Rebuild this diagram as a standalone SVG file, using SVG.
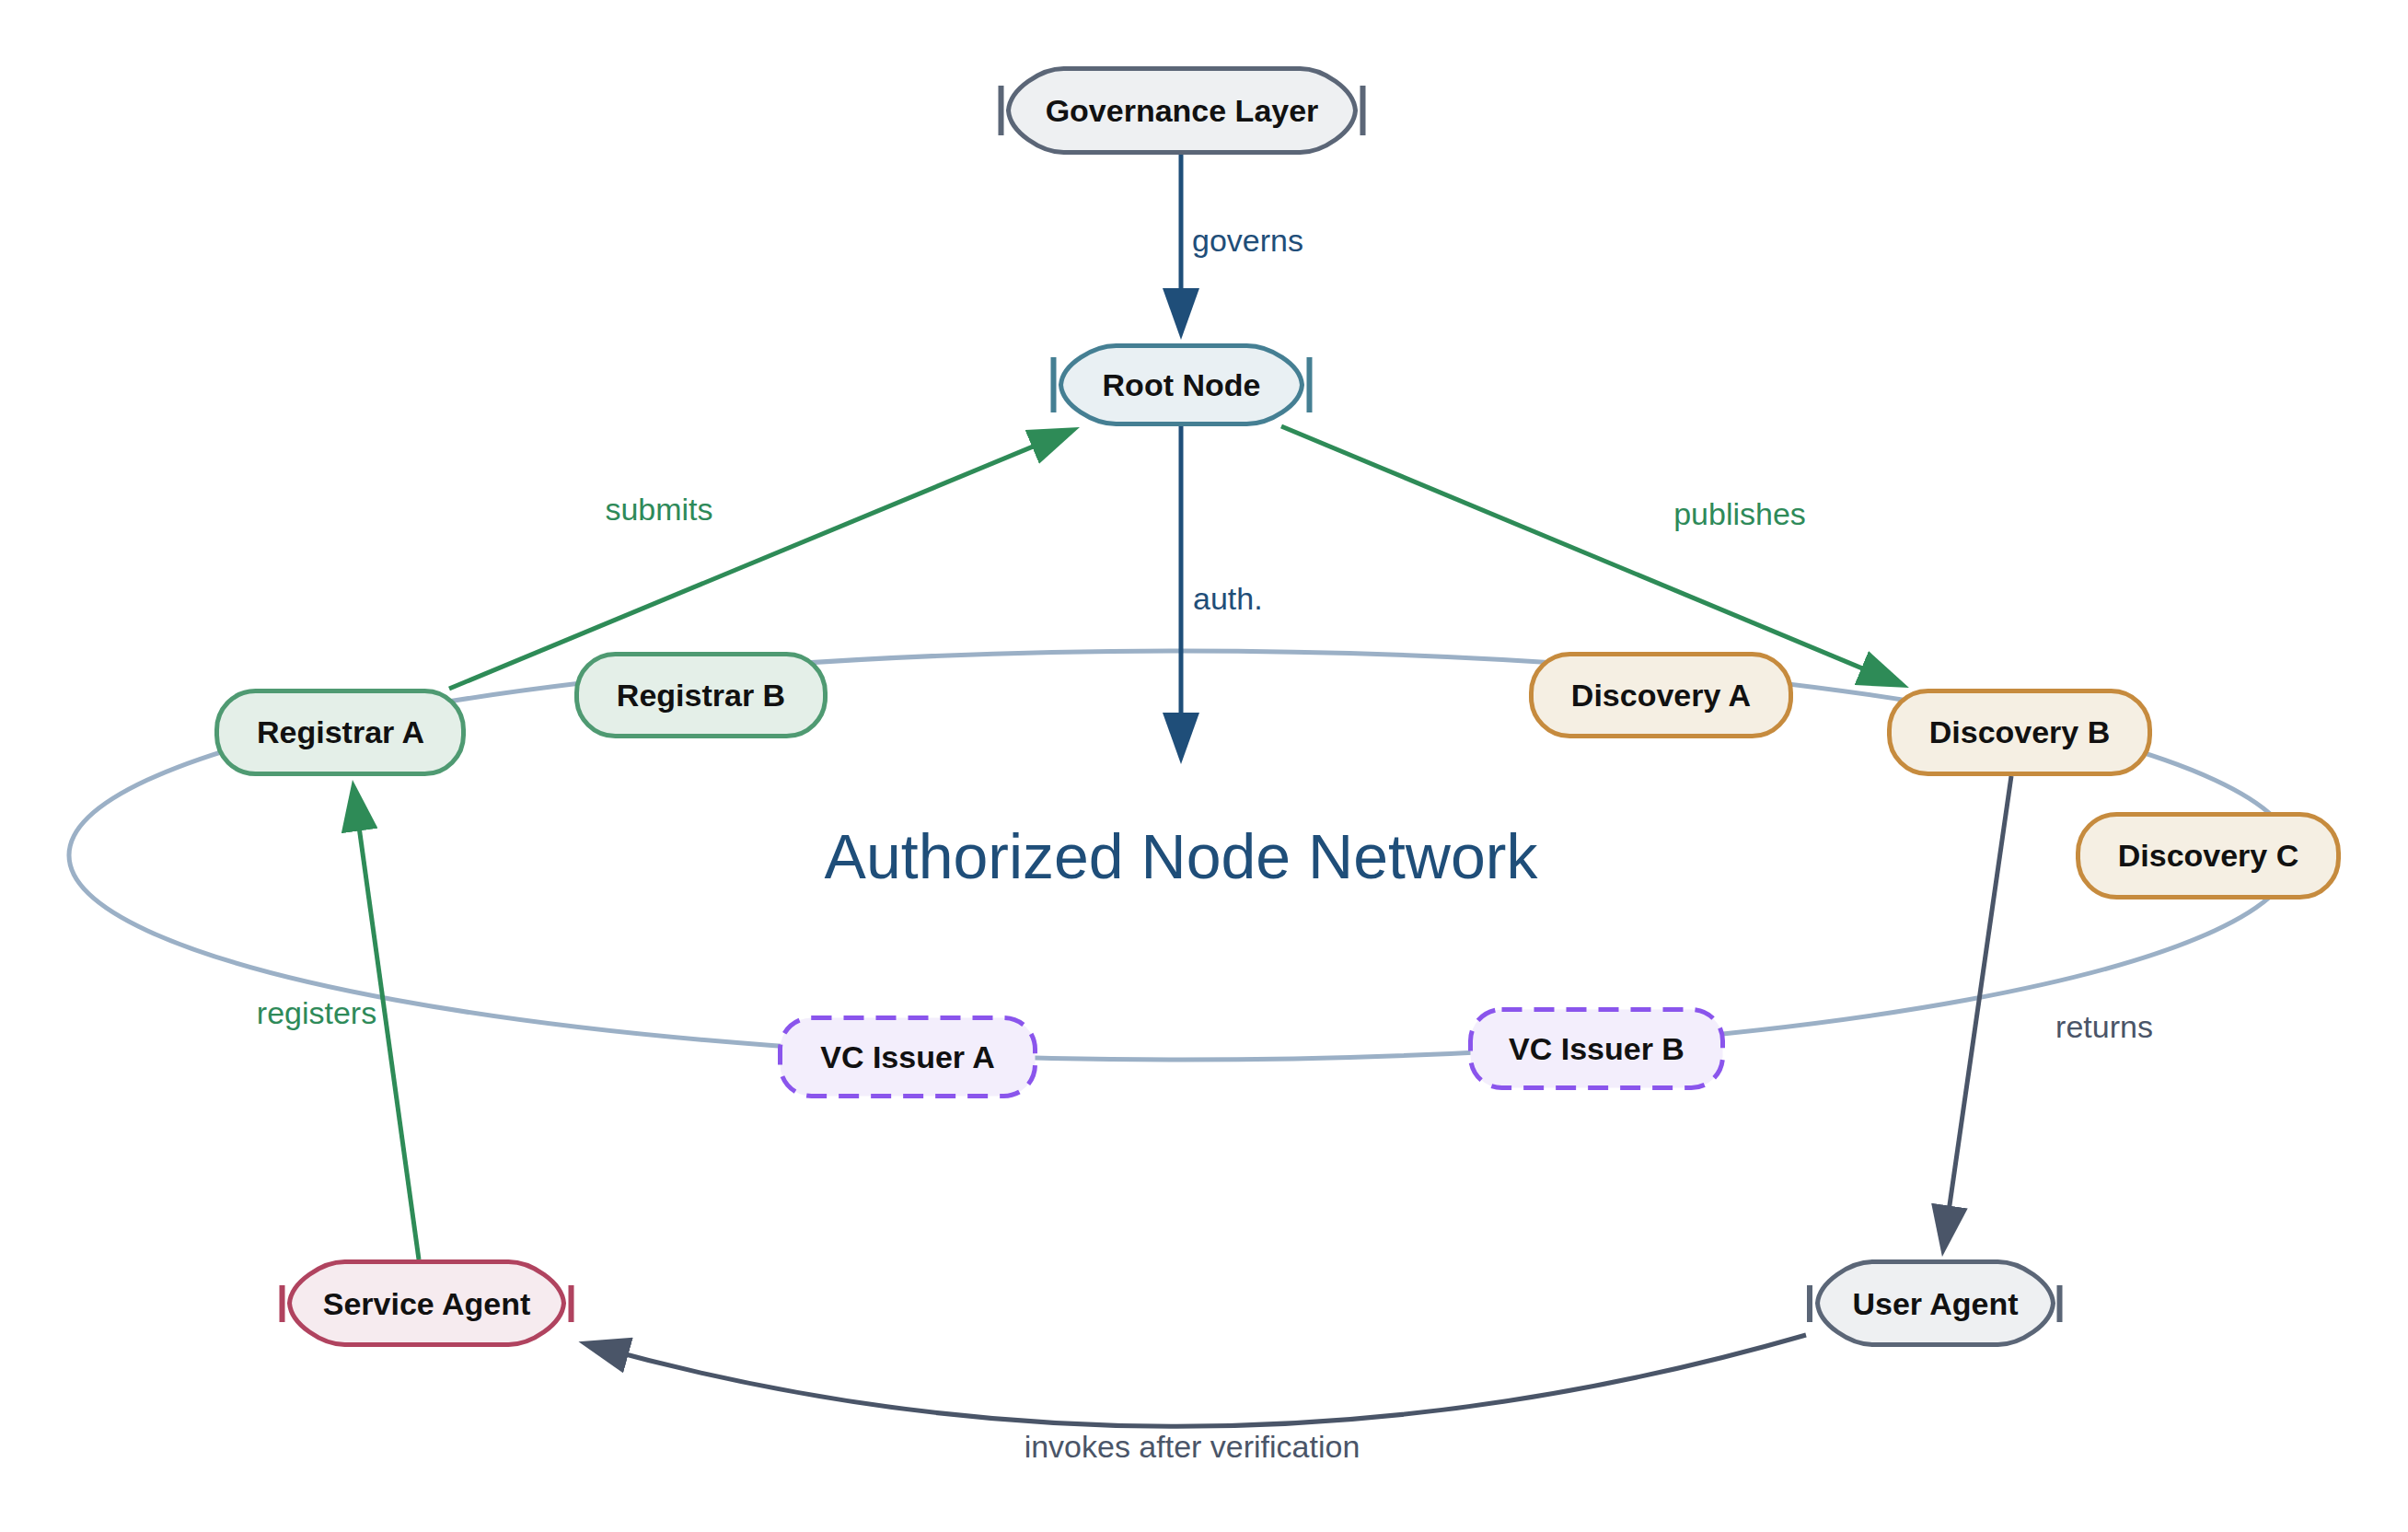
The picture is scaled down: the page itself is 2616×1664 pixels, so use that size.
<svg xmlns="http://www.w3.org/2000/svg" width="2616" height="1664" viewBox="0 0 2616 1664">
<style>
.lbl{font-family:"Liberation Sans",Arial,sans-serif;font-size:34px;font-weight:bold;fill:#111;text-anchor:middle}
.elbl{font-family:"Liberation Sans",Arial,sans-serif;font-size:34px}
.ring{fill:none;stroke:#9bb0c6;stroke-width:5}
.cap{stroke-width:5}
.reg{fill:#e4efe8;stroke:#4f9a72}
.dis{fill:#f5efe3;stroke:#c68b3e}
.vc{fill:#f3eefc;stroke:#8a55ec;stroke-dasharray:22 13}
.gov{fill:#eef0f2;stroke:#5b6677}
.root{fill:#e9f0f3;stroke:#457f93}
.svc{fill:#f6ebef;stroke:#b0435f}
.usr{fill:#eef0f2;stroke:#5b6677}
.bar{stroke-width:6;fill:none}
.e{fill:none;stroke-width:5}
.blue{stroke:#1f4e79}
.green{stroke:#2e8b57}
.slate{stroke:#4a5568}
</style>
<defs>
<marker id="ah-blue" markerUnits="userSpaceOnUse" markerWidth="56" markerHeight="40" refX="36" refY="20" orient="auto"><path d="M0,0 L56,20 L0,40 Z" fill="#1f4e79"/></marker>
<marker id="ah-green" markerUnits="userSpaceOnUse" markerWidth="56" markerHeight="40" refX="36" refY="20" orient="auto"><path d="M0,0 L56,20 L0,40 Z" fill="#2e8b57"/></marker>
<marker id="ah-slate" markerUnits="userSpaceOnUse" markerWidth="56" markerHeight="40" refX="36" refY="20" orient="auto"><path d="M0,0 L56,20 L0,40 Z" fill="#4a5568"/></marker>
</defs>
<rect width="2616" height="1664" fill="#ffffff"/>

<g id="ring">
<ellipse class="ring" cx="1283" cy="929" rx="1208" ry="222"/>
</g>

<text x="1283" y="954" font-family="'Liberation Sans',Arial,sans-serif" font-size="68" fill="#1f4e79" text-anchor="middle">Authorized Node Network</text>

<g id="connectors">
<path class="e blue" d="M1283,168 L1283,349" marker-end="url(#ah-blue)"/>
<path class="e blue" d="M1283,462 L1283,810" marker-end="url(#ah-blue)"/>
<path class="e green" d="M488,748 L1154.5,471.6" marker-end="url(#ah-green)"/>
<path class="e green" d="M1392,463 L2055.5,739.4" marker-end="url(#ah-green)"/>
<path class="e green" d="M455,1368 L385.7,866.8" marker-end="url(#ah-green)"/>
<path class="e slate" d="M2185,843 L2112.8,1345.2" marker-end="url(#ah-slate)"/>
<path class="e slate" d="M1962,1450 Q1296.1,1642.1 647.7,1462.5" marker-end="url(#ah-slate)"/>
<text class="elbl" x="1295" y="273" fill="#1f4e79">governs</text>
<text class="elbl" x="1296" y="662" fill="#1f4e79">auth.</text>
<text class="elbl" x="716" y="565" fill="#2e8a59" text-anchor="middle">submits</text>
<text class="elbl" x="1890" y="570" fill="#2e8a59" text-anchor="middle">publishes</text>
<text class="elbl" x="344" y="1112" fill="#2e8a59" text-anchor="middle">registers</text>
<text class="elbl" x="2286" y="1127" fill="#4a5568" text-anchor="middle">returns</text>
<text class="elbl" x="1295" y="1583" fill="#4a5568" text-anchor="middle">invokes after verification</text>
</g>

<g id="governance">
<path class="cap gov" d="M1155.5,74.5 H1412.5 C1436.5,74.5 1470.7,96 1472.5,120 C1470.7,144 1436.5,165.5 1412.5,165.5 H1155.5 C1131.5,165.5 1097.3,144 1095.5,120 C1097.3,96 1131.5,74.5 1155.5,74.5 Z"/>
<path class="bar" stroke="#5b6677" d="M1087.5,93 V147 M1480.5,93 V147"/>
<text class="lbl" x="1284" y="132">Governance Layer</text>
</g>

<g id="root">
<path class="cap root" d="M1212.5,375.5 H1354.5 C1378.5,375.5 1412.7,395 1414.5,418 C1412.7,441 1378.5,460.5 1354.5,460.5 H1212.5 C1188.5,460.5 1154.3,441 1152.5,418 C1154.3,395 1188.5,375.5 1212.5,375.5 Z"/>
<path class="bar" stroke="#457f93" d="M1144.5,388 V448 M1422.5,388 V448"/>
<text class="lbl" x="1283.5" y="430">Root Node</text>
</g>

<g id="registrar-a">
<rect class="cap reg" x="235.5" y="750.5" width="268" height="90" rx="42"/>
<text class="lbl" x="370" y="807">Registrar A</text>
</g>
<g id="registrar-b">
<rect class="cap reg" x="626.5" y="710.5" width="270" height="89" rx="42"/>
<text class="lbl" x="761.5" y="767">Registrar B</text>
</g>
<g id="discovery-a">
<rect class="cap dis" x="1663.5" y="710.5" width="282" height="89" rx="42"/>
<text class="lbl" x="1804.5" y="767">Discovery A</text>
</g>
<g id="discovery-b">
<rect class="cap dis" x="2052.5" y="750.5" width="283" height="90" rx="42"/>
<text class="lbl" x="2194" y="807">Discovery B</text>
</g>
<g id="discovery-c">
<rect class="cap dis" x="2257.5" y="884.5" width="283" height="90" rx="42"/>
<text class="lbl" x="2399" y="941">Discovery C</text>
</g>
<g id="vc-issuer-a">
<rect class="cap vc" x="847.5" y="1105.5" width="277" height="85" rx="34"/>
<text class="lbl" x="986" y="1160">VC Issuer A</text>
</g>
<g id="vc-issuer-b">
<rect class="cap vc" x="1597.5" y="1096.5" width="274" height="85" rx="34"/>
<text class="lbl" x="1734.5" y="1151">VC Issuer B</text>
</g>

<g id="service-agent">
<path class="cap svc" d="M374.5,1370.5 H552.5 C576.5,1370.5 610.7,1392 612.5,1415.5 C610.7,1439 576.5,1460.5 552.5,1460.5 H374.5 C350.5,1460.5 316.3,1439 314.5,1415.5 C316.3,1392 350.5,1370.5 374.5,1370.5 Z"/>
<path class="bar" stroke="#b0435f" d="M306.5,1396 V1436 M620.5,1396 V1436"/>
<text class="lbl" x="463.5" y="1427.5">Service Agent</text>
</g>

<g id="user-agent">
<path class="cap usr" d="M2034.5,1370.5 H2170.5 C2194.5,1370.5 2228.7,1392 2230.5,1415.5 C2228.7,1439 2194.5,1460.5 2170.5,1460.5 H2034.5 C2010.5,1460.5 1976.3,1439 1974.5,1415.5 C1976.3,1392 2010.5,1370.5 2034.5,1370.5 Z"/>
<path class="bar" stroke="#5b6677" d="M1966,1396 V1436 M2237.5,1396 V1436"/>
<text class="lbl" x="2102.5" y="1427.5">User Agent</text>
</g>
</svg>
